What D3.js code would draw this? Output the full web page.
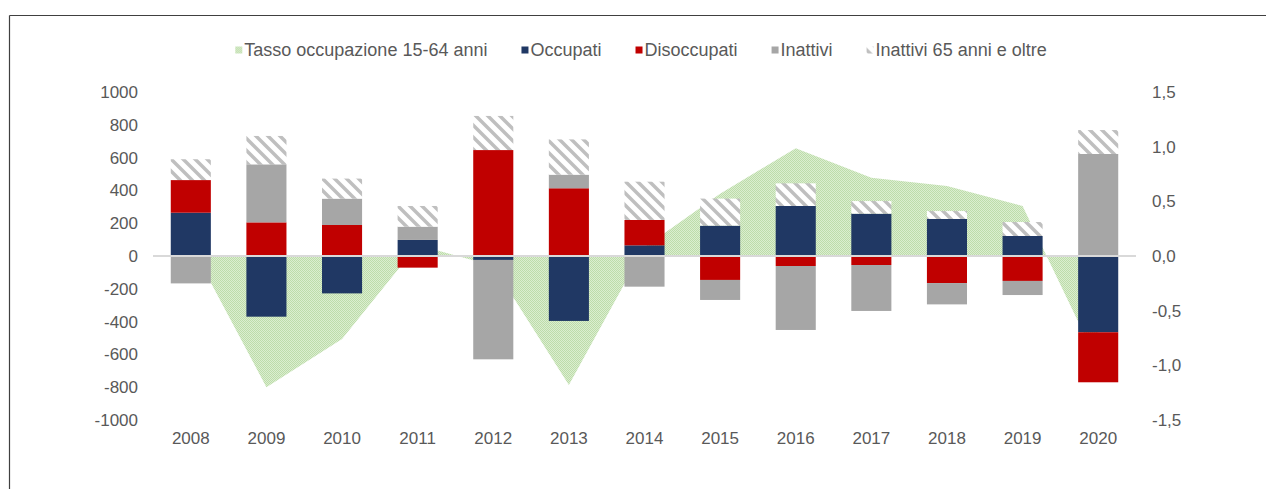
<!DOCTYPE html>
<html>
<head>
<meta charset="utf-8">
<script src="https://cdn.jsdelivr.net/npm/d3@7"></script>
<style>
  html, body { margin: 0; padding: 0; background: #fff; }
  svg { display: block; }
  text { font-family: "Liberation Sans", Arial, sans-serif; fill: #595959; }
</style>
</head>
<body>
<svg id="chart" width="1266" height="489"></svg>
<script>
// ---- data ----
const years = ["2008","2009","2010","2011","2012","2013","2014","2015","2016","2017","2018","2019","2020"];
const occupati    = [264, -370, -228,  98,  -24, -396,   65,  185,  305,  258,  226,  122, -465];
const disoccupati = [199,  205,  189, -71,  646,  413,  155, -146,  -61,  -55, -165, -152, -305];
const inattivi    = [-167, 354,  161,  81, -606,   83, -187, -122, -390, -280, -130,  -86,  622];
const inattivi65  = [127,  173,  122, 126,  208,  215,  233,  165,  138,   77,   48,   85,  146];
const tasso       = [0.10, -1.20, -0.76, 0.10, -0.09, -1.18, 0.08, 0.57, 0.985, 0.716, 0.64, 0.457, -0.98];
const leftTicks  = [-1000, -800, -600, -400, -200, 0, 200, 400, 600, 800, 1000];
const rightTicks = [-1.5, -1.0, -0.5, 0.0, 0.5, 1.0, 1.5];
const seriesNames = ["Tasso occupazione 15-64 anni", "Occupati", "Disoccupati", "Inattivi", "Inattivi 65 anni e oltre"];

// ---- setup ----
const svg = d3.select("#chart");
const defs = svg.append("defs");

const hatch = defs.append("pattern").attr("id", "hatch")
  .attr("patternUnits", "userSpaceOnUse").attr("width", 12).attr("height", 12);
hatch.append("rect").attr("width", 12).attr("height", 12).attr("fill", "#fff");
hatch.append("path").attr("d", "M0,0 L12,12 M-6,6 L6,18 M6,-6 L18,6")
  .attr("stroke", "#bfbfbf").attr("stroke-width", 3.5);

const dots = defs.append("pattern").attr("id", "greendots")
  .attr("patternUnits", "userSpaceOnUse").attr("width", 2).attr("height", 2);
dots.append("rect").attr("width", 2).attr("height", 2).attr("fill", "#dbeed0");
dots.append("rect").attr("width", 1).attr("height", 1).attr("fill", "#bddcaa");
dots.append("rect").attr("x", 1).attr("y", 1).attr("width", 1).attr("height", 1).attr("fill", "#bddcaa");

// frame
svg.append("line").attr("x1", 9.5).attr("x2", 1266).attr("y1", 15.5).attr("y2", 15.5)
  .attr("stroke", "#404040").attr("stroke-width", 1.2);
svg.append("line").attr("x1", 9.5).attr("x2", 9.5).attr("y1", 15.5).attr("y2", 489)
  .attr("stroke", "#404040").attr("stroke-width", 1.2);

const x = d3.scaleBand().domain(years).range([153, 1136]).paddingInner(0.47).paddingOuter(0.235);
const yL = d3.scaleLinear().domain([-1000, 1000]).range([420, 92]);
const yR = d3.scaleLinear().domain([-1.5, 1.5]).range([420, 92]);
const cx = d => x(d) + x.bandwidth() / 2;

// area (right axis)
const area = d3.area()
  .x((d, i) => cx(years[i]))
  .y0(yR(0))
  .y1(d => yR(d));
svg.append("path").datum(tasso).attr("d", area).attr("fill", "url(#greendots)");

// stacked bars
const keys = ["occupati", "disoccupati", "inattivi", "inattivi65"];
const colors = { occupati: "#203864", disoccupati: "#c00000", inattivi: "#a6a6a6", inattivi65: "url(#hatch)" };
const rows = years.map((y, i) => ({ year: y, occupati: occupati[i], disoccupati: disoccupati[i], inattivi: inattivi[i], inattivi65: inattivi65[i] }));
const stacked = d3.stack().keys(keys).offset(d3.stackOffsetDiverging)(rows);

svg.append("g").selectAll("g").data(stacked).join("g")
  .attr("fill", d => colors[d.key])
  .selectAll("rect").data(d => d).join("rect")
  .attr("x", d => x(d.data.year))
  .attr("width", x.bandwidth())
  .attr("y", d => yL(Math.max(d[0], d[1])))
  .attr("height", d => Math.abs(yL(d[0]) - yL(d[1])));

// zero line
svg.append("line").attr("x1", 153).attr("x2", 1136).attr("y1", yL(0)).attr("y2", yL(0))
  .attr("stroke", "#d9d9d9").attr("stroke-width", 2);

const fontCss = "'Liberation Sans', Arial, sans-serif";

// left axis
const axL = svg.append("g").attr("transform", "translate(138,0)")
  .call(d3.axisLeft(yL).tickValues(leftTicks).tickSize(0).tickPadding(0).tickFormat(d => String(d)));
axL.select(".domain").remove();
axL.selectAll("text").style("font-size", "17px").style("font-family", fontCss).attr("fill", "#595959");

// right axis
const fmtR = d => (d < 0 ? "-" : "") + Math.abs(d).toFixed(1).replace(".", ",");
const axR = svg.append("g").attr("transform", "translate(1152,0)")
  .call(d3.axisRight(yR).tickValues(rightTicks).tickSize(0).tickPadding(0).tickFormat(fmtR));
axR.select(".domain").remove();
axR.selectAll("text").style("font-size", "17px").style("font-family", fontCss).attr("fill", "#595959");

// x axis labels
const axX = svg.append("g").attr("transform", "translate(0,432)")
  .call(d3.axisBottom(x).tickSize(0).tickPadding(0));
axX.select(".domain").remove();
axX.selectAll("text").style("font-size", "17px").style("font-family", fontCss).attr("fill", "#595959");

// legend
const legFills = ["url(#greendots)", colors.occupati, colors.disoccupati, colors.inattivi, "url(#hatch)"];
const leg = svg.append("g");
const items = leg.selectAll("g").data(seriesNames).join("g");
items.append("rect").attr("width", 7).attr("height", 7).attr("y", -3.5)
  .attr("fill", (d, i) => legFills[i]);
items.append("text").attr("x", 9).attr("dy", "0.35em").style("font-size", "18px").text(d => d);
let pos = 0;
const widths = [];
items.each(function () { widths.push(9 + this.querySelector("text").getComputedTextLength()); });
const gap = 34;
const total = d3.sum(widths) + gap * (widths.length - 1);
const start = 641 - total / 2;
items.attr("transform", (d, i) => {
  const t = `translate(${start + pos},50)`;
  pos += widths[i] + gap;
  return t;
});
</script>
</body>
</html>
